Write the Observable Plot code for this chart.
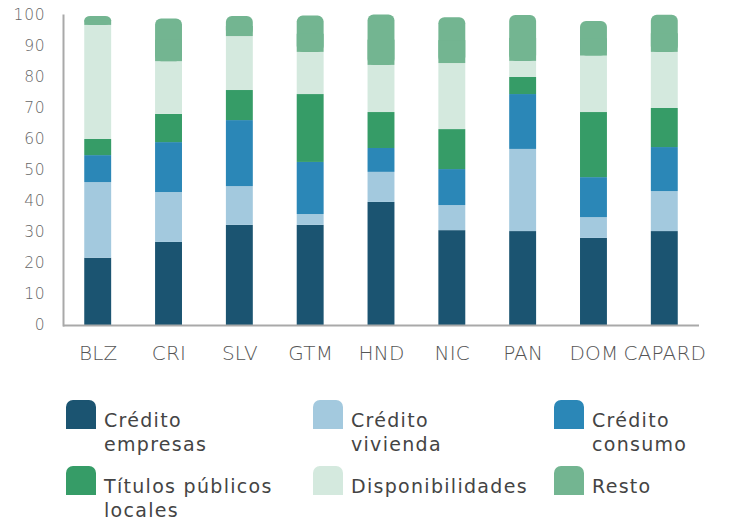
<!DOCTYPE html>
<html>
<head>
<meta charset="utf-8">
<script src="https://cdn.jsdelivr.net/npm/d3@7"></script>
<script src="https://cdn.jsdelivr.net/npm/@observablehq/plot@0.6"></script>
<style>
  body { margin: 0; background: #fff; }
  #wrap { position: relative; width: 731px; height: 520px; font-family: "DejaVu Sans", sans-serif; }
  #chart { position: absolute; left: 0; top: 0; }
  .item { position: absolute; display: flex; align-items: flex-start; }
  .sw { width: 30px; height: 29px; border-radius: 7px 7px 0 0; flex: none; }
  .lbl { margin-left: 8px; margin-top: 8px; font-size: 19px; line-height: 24px; color: #444; letter-spacing: 1.3px; }
  #chart svg text { font-weight: 200; }
</style>
</head>
<body>
<div id="wrap">
  <div id="chart"></div>
  <div id="legend"></div>
</div>
<script>
const countries = ["BLZ","CRI","SLV","GTM","HND","NIC","PAN","DOM","CAPARD"];
const series = ["Crédito empresas","Crédito vivienda","Crédito consumo","Títulos públicos locales","Disponibilidades","Resto"];
const legendLabels = [["Crédito","empresas"],["Crédito","vivienda"],["Crédito","consumo"],["Títulos públicos","locales"],["Disponibilidades"],["Resto"]];
const creditoEmpresas  = [21.7, 26.8, 32.3, 32.3, 39.7, 30.6, 30.3, 28.1, 30.3];
const creditoVivienda  = [24.4, 16.1, 12.5,  3.5,  9.7,  8.1, 26.5,  6.7, 12.9];
const creditoConsumo   = [ 8.7, 16.1, 21.3, 16.8,  7.7, 11.6, 17.7, 12.9, 14.2];
const titulosPublicos  = [ 5.2,  9.1,  9.7, 21.9, 11.6, 12.9,  5.5, 21.0, 12.6];
const disponibilidades = [36.8, 17.0, 17.4, 13.6, 15.2, 21.3,  5.2, 18.2, 18.1];
const resto            = [ 2.9, 13.8,  6.5, 11.7, 16.3, 14.8, 14.8, 11.2, 12.0];
const yTicks = [0,10,20,30,40,50,60,70,80,90,100];
const colors = ["#1b5471","#a3c9de","#2b87b7","#369c67","#d4e9de","#73b591"];

const seriesValues = [creditoEmpresas, creditoVivienda, creditoConsumo, titulosPublicos, disponibilidades, resto];
const rows = [];
countries.forEach((c, i) => {
  let acc = 0;
  seriesValues.forEach((vals, j) => {
    rows.push({country: c, series: series[j], y1: acc, y2: acc + vals[i]});
    acc += vals[i];
  });
});
const restoRows = rows.filter(d => d.series === "Resto");
const otherRows = rows.filter(d => d.series !== "Resto");

const chart = Plot.plot({
  width: 731,
  height: 372,
  marginLeft: 63,
  marginRight: 32,
  marginTop: 15,
  marginBottom: 47,
  style: {fontFamily: "DejaVu Sans, sans-serif", background: "transparent"},
  x: {domain: countries, paddingInner: 0.62, paddingOuter: 0.3, round: false},
  y: {domain: [0, 100]},
  color: {domain: series, range: colors},
  marks: [
    Plot.barY(otherRows, {x: "country", y1: "y1", y2: "y2", fill: "series"}),
    Plot.barY(restoRows, {x: "country", y1: "y1", y2: "y2", fill: "series", rx: 6}),
    Plot.barY(restoRows, {x: "country", y1: "y1", y2: d => (d.y1 + d.y2) / 2, fill: "series"}),
    Plot.frame({anchor: "left", stroke: "#a9a9a9", strokeWidth: 2}),
    Plot.ruleY([0], {stroke: "#a9a9a9", strokeWidth: 2}),
    Plot.axisY({ticks: yTicks, tickSize: 0, tickPadding: 18, fontSize: 15.5, color: "#666", label: null}),
    Plot.axisX({tickSize: 0, tickPadding: 20, fontSize: 20, color: "#555", label: null})
  ]
});
chart.querySelectorAll("text").forEach(t => {
  const s = t.textContent.trim();
  if (countries.includes(s)) t.setAttribute("letter-spacing", "0.2");
  else if (/^\d+$/.test(s)) t.setAttribute("letter-spacing", "0.8");
});
document.getElementById("chart").appendChild(chart);

const legend = document.getElementById("legend");
const lefts = [66, 313, 554];
const tops = [400, 466];
series.forEach((s, j) => {
  const item = document.createElement("div");
  item.className = "item";
  item.style.left = lefts[j % 3] + "px";
  item.style.top = tops[Math.floor(j / 3)] + "px";
  const sw = document.createElement("div");
  sw.className = "sw";
  sw.style.background = colors[j];
  const lbl = document.createElement("div");
  lbl.className = "lbl";
  lbl.innerHTML = legendLabels[j].join("<br>");
  item.appendChild(sw);
  item.appendChild(lbl);
  legend.appendChild(item);
});
</script>
</body>
</html>
